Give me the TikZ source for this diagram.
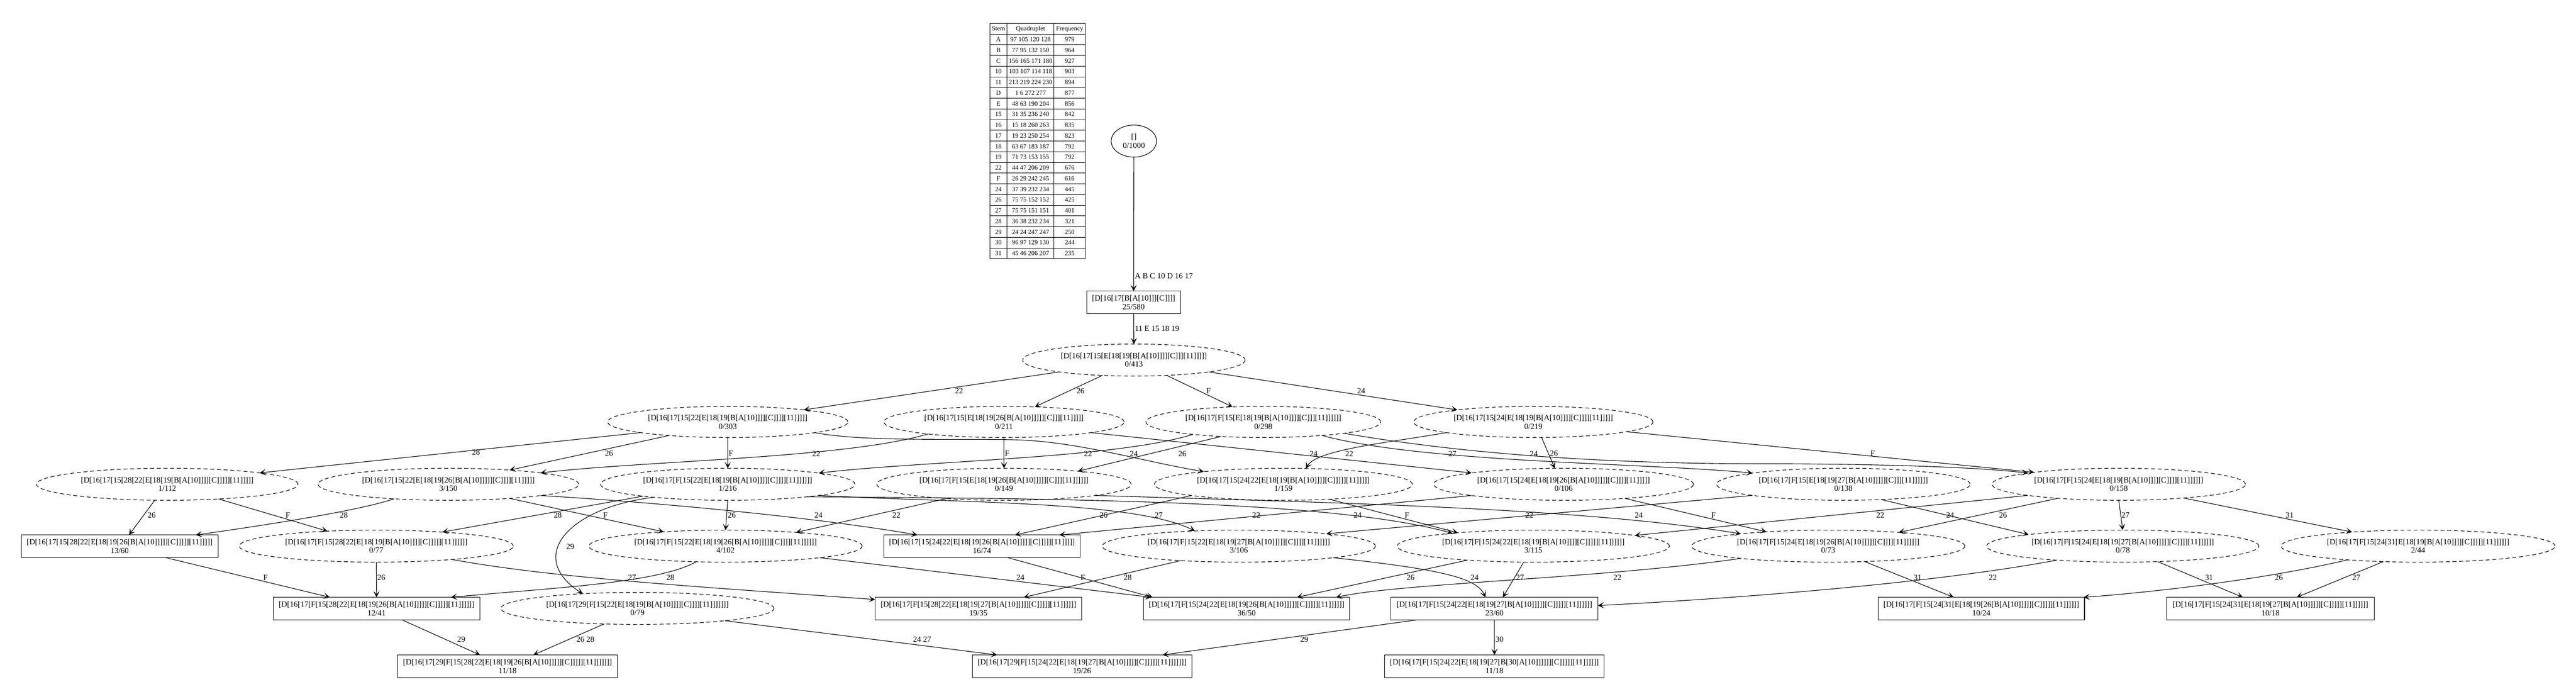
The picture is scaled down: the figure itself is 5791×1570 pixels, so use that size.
\documentclass[tikz,border=0pt]{standalone}
\usepackage{fontspec}
\setmainfont{Liberation Serif}
\usetikzlibrary{arrows.meta,shapes.geometric}
\begin{document}
\begin{tikzpicture}[x=1pt,y=-1pt,
  base/.style={font=\fontsize{17.9}{19}\selectfont, align=center, inner sep=0pt, outer sep=0pt, line width=1.3pt},
  ell/.style={base, draw, ellipse, minimum height=72pt},
  dell/.style={ell, dash pattern=on 9pt off 6pt},
  bx/.style={base, draw, rectangle, minimum height=51pt},
  edge/.style={draw, line width=1.3pt, -{Stealth[length=14pt,width=14pt,inset=7pt]}},
  lbl/.style={font=\fontsize{17.9}{19}\selectfont, inner sep=0pt, text height=12pt, text depth=0pt},
  cell/.style={font=\fontsize{14.5}{15}\selectfont, inner sep=0pt, text height=9.8pt, text depth=0pt},
  tline/.style={draw, line width=1pt}
]
\useasboundingbox (0,0) rectangle (5791,1570);
\fill[white] (0,0) rectangle (5791,1570);

% ---------- table ----------
\draw[tline, line width=1.4pt] (2225,52.5) rectangle (2440,581);
\draw[tline] (2264,52.5) -- (2264,581);
\draw[tline] (2369.3,52.5) -- (2369.3,581);
\foreach \k in {1,...,21} \draw[tline] (2225,{52.5+24.03*\k}) -- (2440,{52.5+24.03*\k});
\foreach \s/\q/\f [count=\i from 0] in {Stem/Quadruplet/Frequency, A/97 105 120 128/979, B/77 95 132 150/964, C/156 165 171 180/927, 10/103 107 114 118/903, 11/213 219 224 230/894, D/1 6 272 277/877, E/48 63 190 204/856, 15/31 35 236 240/842, 16/15 18 260 263/835, 17/19 23 250 254/823, 18/63 67 183 187/792, 19/71 73 153 155/792, 22/44 47 206 209/676, F/26 29 242 245/616, 24/37 39 232 234/445, 26/75 75 152 152/425, 27/75 75 151 151/401, 28/36 38 232 234/321, 29/24 24 247 247/250, 30/96 97 129 130/244, 31/45 46 206 207/235}
{
  \node[cell] (ts\i) at (2244.5,{52.5+24.03*(\i+0.5)}) {\s};
  \node[cell] (tq\i) at (2316.7,{52.5+24.03*(\i+0.5)}) {\q};
  \node[cell] (tf\i) at (2404.7,{52.5+24.03*(\i+0.5)}) {\f};
}

% ---------- nodes ----------
\node[ell, minimum width=102pt] (r0) at (2549,317) {[]\\0/1000};
\node[bx, minimum width=211pt] (b1) at (2548.5,679.5) {[D[16[17[B[A[10]]][C]]]]\\25/580};
\node[dell, minimum width=500pt] (n2) at (2549,809) {[D[16[17[15[E[18[19[B[A[10]]]][C]]][11]]]]]\\0/413};

\node[dell, minimum width=540pt, minimum height=70pt] (a303) at (1636,948) {[D[16[17[15[22[E[18[19[B[A[10]]]][C]]]][11]]]]]\\0/303};
\node[dell, minimum width=540pt, minimum height=70pt] (a211) at (2257,948) {[D[16[17[15[E[18[19[26[B[A[10]]]]][C]]][11]]]]]\\0/211};
\node[dell, minimum width=528pt, minimum height=70pt] (a298) at (2840,948) {[D[16[17[F[15[E[18[19[B[A[10]]]][C]]][11]]]]]]\\0/298};
\node[dell, minimum width=538pt, minimum height=70pt] (a219) at (3447,948) {[D[16[17[15[24[E[18[19[B[A[10]]]][C]]]][11]]]]]\\0/219};

\node[dell, minimum width=588pt] (b112) at (376,1088) {[D[16[17[15[28[22[E[18[19[B[A[10]]]][C]]]]][11]]]]]\\1/112};
\node[dell, minimum width=586pt] (b150) at (1008,1088) {[D[16[17[15[22[E[18[19[26[B[A[10]]]]][C]]]][11]]]]]\\3/150};
\node[dell, minimum width=572pt] (b216) at (1636,1088) {[D[16[17[F[15[22[E[18[19[B[A[10]]]][C]]]][11]]]]]]\\1/216};
\node[dell, minimum width=572pt] (b149) at (2257,1088) {[D[16[17[F[15[E[18[19[26[B[A[10]]]]][C]]][11]]]]]]\\0/149};
\node[dell, minimum width=580pt] (b159) at (2885,1088) {[D[16[17[15[24[22[E[18[19[B[A[10]]]][C]]]]][11]]]]]\\1/159};
\node[dell, minimum width=584pt] (b106) at (3515,1088) {[D[16[17[15[24[E[18[19[26[B[A[10]]]]][C]]]][11]]]]]\\0/106};
\node[dell, minimum width=570pt] (b138) at (4144,1088) {[D[16[17[F[15[E[18[19[27[B[A[10]]]]][C]]][11]]]]]]\\0/138};
\node[dell, minimum width=570pt] (b158) at (4763,1088) {[D[16[17[F[15[24[E[18[19[B[A[10]]]][C]]]][11]]]]]]\\0/158};

\node[bx, minimum width=442pt] (c60) at (269,1227.5) {[D[16[17[15[28[22[E[18[19[26[B[A[10]]]]][C]]]]][11]]]]]\\13/60};
\node[dell, minimum width=616pt] (c77) at (846,1227) {[D[16[17[F[15[28[22[E[18[19[B[A[10]]]][C]]]]][11]]]]]]\\0/77};
\node[dell, minimum width=614pt] (c102) at (1631,1227) {[D[16[17[F[15[22[E[18[19[26[B[A[10]]]]][C]]]][11]]]]]]\\4/102};
\node[bx, minimum width=441pt] (c74) at (2207.5,1227.5) {[D[16[17[15[24[22[E[18[19[26[B[A[10]]]]][C]]]]][11]]]]]\\16/74};
\node[dell, minimum width=614pt] (c106) at (2785,1227) {[D[16[17[F[15[22[E[18[19[27[B[A[10]]]]][C]]]][11]]]]]]\\3/106};
\node[dell, minimum width=612pt] (c115) at (3447,1227) {[D[16[17[F[15[24[22[E[18[19[B[A[10]]]][C]]]]][11]]]]]]\\3/115};
\node[dell, minimum width=614pt] (c73) at (4110,1227) {[D[16[17[F[15[24[E[18[19[26[B[A[10]]]]][C]]]][11]]]]]]\\0/73};
\node[dell, minimum width=612pt] (c78) at (4772,1227) {[D[16[17[F[15[24[E[18[19[27[B[A[10]]]]][C]]]][11]]]]]]\\0/78};
\node[dell, minimum width=616pt] (c44) at (5436,1227) {[D[16[17[F[15[24[31[E[18[19[B[A[10]]]][C]]]]][11]]]]]]\\2/44};

\node[bx, minimum width=465pt] (d41) at (846.5,1367.5) {[D[16[17[F[15[28[22[E[18[19[26[B[A[10]]]]][C]]]]][11]]]]]]\\12/41};
\node[dell, minimum width=614pt] (d79) at (1433,1367) {[D[16[17[29[F[15[22[E[18[19[B[A[10]]]][C]]]][11]]]]]]]\\0/79};
\node[bx, minimum width=465pt] (d35) at (2199.5,1367.5) {[D[16[17[F[15[28[22[E[18[19[27[B[A[10]]]]][C]]]]][11]]]]]]\\19/35};
\node[bx, minimum width=463pt] (d50) at (2802.5,1367.5) {[D[16[17[F[15[24[22[E[18[19[26[B[A[10]]]]][C]]]]][11]]]]]]\\36/50};
\node[bx, minimum width=465pt] (d60) at (3359.5,1367.5) {[D[16[17[F[15[24[22[E[18[19[27[B[A[10]]]]][C]]]]][11]]]]]]\\23/60};
\node[bx, minimum width=464pt] (d24) at (4454,1367.5) {[D[16[17[F[15[24[31[E[18[19[26[B[A[10]]]]][C]]]]][11]]]]]]\\10/24};
\node[bx, minimum width=466pt] (d18) at (5104,1367.5) {[D[16[17[F[15[24[31[E[18[19[27[B[A[10]]]]][C]]]]][11]]]]]]\\10/18};

\node[bx, minimum width=494pt] (f18a) at (1141,1497) {[D[16[17[29[F[15[28[22[E[18[19[26[B[A[10]]]]][C]]]]][11]]]]]]]\\11/18};
\node[bx, minimum width=493pt] (f26) at (2432.5,1497) {[D[16[17[29[F[15[24[22[E[18[19[27[B[A[10]]]]][C]]]]][11]]]]]]]\\19/26};
\node[bx, minimum width=493pt] (f18b) at (3359.5,1497) {[D[16[17[F[15[24[22[E[18[19[27[B[30[A[10]]]]]][C]]]]][11]]]]]]\\11/18};

% ---------- edges ----------
\draw[edge] (r0.south) -- (b1.north);
\node[lbl, anchor=west] (l1) at (2551,620) {A B C 10 D 16 17};
\draw[edge] (b1.south) -- (n2.north);
\node[lbl, anchor=west] (l2) at (2551,738) {11 E 15 18 19};

% row 2 -> 3
\draw[edge] (n2.189) -- (a303.9);   \node[lbl] (l3) at (2156,878) {22};
\draw[edge] (n2.206) -- (a211.26);  \node[lbl] (l4) at (2429,878) {26};
\draw[edge] (n2.335) -- (a298.154); \node[lbl] (l5) at (2717,878) {F};
\draw[edge] (n2.351) -- (a219.171); \node[lbl] (l6) at (3060,878) {24};

% row 3 -> 4
\draw[edge] (a303.187) -- (b112.7);  \node[lbl] (l7) at (1070,1016) {28};
\draw[edge] (a303.193) -- (b150.13); \node[lbl] (l8) at (1369,1018) {26};
\draw[edge] (a303.south) -- (b216.north); \node[lbl, anchor=west] (l9) at (1638,1018) {F};
\draw[edge] (a303.353) .. controls (1940,993) and (2150,985) .. (2277,988) .. controls (2420,991) and (2560,1035) .. (b159.171);
\node[lbl] (l10) at (2549,1020) {24};
\draw[edge] (a211.189) .. controls (1900,1030) and (1450,1035) .. (b150.7); \node[lbl] (l11) at (1835,1020) {22};
\draw[edge] (a211.south) -- (b149.north); \node[lbl, anchor=west] (l12) at (2259,1018) {F};
\draw[edge] (a211.353) -- (b106.173); \node[lbl] (l13) at (2953,1020) {24};
\draw[edge] (a298.190) .. controls (2510,1030) and (2080,1035) .. (b216.7); \node[lbl] (l14) at (2446,1020) {22};
\draw[edge] (a298.199) -- (b149.10); \node[lbl] (l15) at (2658,1020) {26};
\draw[edge] (a298.347) .. controls (3200,1040) and (3700,1040) .. (b138.173); \node[lbl] (l16) at (3265,1020) {27};
\draw[edge] (a298.352) .. controls (3350,1030) and (3700,1043) .. (4000,1042) .. controls (4250,1043) and (4450,1050) .. (b158.173);
\node[lbl] (l17) at (3448,1020) {24};
\draw[edge] (a219.187) .. controls (3120,995) and (2960,1010) .. (b159.35); \node[lbl] (l18) at (3033,1020) {22};
\draw[edge] (a219.298) -- (b106.119); \node[lbl, anchor=west] (l19) at (3484,1018) {26};
\draw[edge] (a219.354) -- (b158.172); \node[lbl] (l20) at (4210,1018) {F};

% row 4 -> 5
\draw[edge] (b112.232) -- ([xshift=21pt]c60.north); \node[lbl] (l21) at (341,1157) {26};
\draw[edge] (b112.344) -- (c77.163); \node[lbl] (l22) at (647,1157) {F};
\draw[edge] (b150.195) .. controls (800,1150) and (560,1185) .. ([xshift=171pt]c60.north); \node[lbl] (l23) at (773,1157) {28};
\draw[edge] (b150.347) -- (c102.167); \node[lbl] (l24) at (1361,1157) {F};
\draw[edge] (b150.353) .. controls (1500,1130) and (1850,1165) .. ([xshift=-145pt]c74.north); \node[lbl] (l25) at (1840,1157) {24};
\draw[edge] (b216.188) -- (c77.12); \node[lbl] (l26) at (1254,1157) {28};
\draw[edge] (b216.south) -- (c102.north); \node[lbl, anchor=west] (l27) at (1636,1157) {26};
\draw[edge] (b216.190) .. controls (1280,1140) and (1180,1250) .. (d79.165); \node[lbl] (l28) at (1282,1228) {29};
\draw[edge] (b216.353) .. controls (2150,1130) and (2550,1125) .. (c106.161); \node[lbl] (l29) at (2605,1157) {27};
\draw[edge] (b216.351) .. controls (2400,1120) and (3000,1125) .. (c115.171); \node[lbl] (l30) at (3052,1157) {24};
\draw[edge] (b149.194) -- (c102.11); \node[lbl] (l32) at (2015,1157) {22};
\draw[edge] (b149.353) .. controls (3000,1130) and (3550,1140) .. (c73.172); \node[lbl] (l33) at (3684,1157) {24};
\draw[edge] (b159.187) -- ([xshift=74pt]c74.north); \node[lbl] (l34) at (2481,1157) {26};
\draw[edge] (b159.342) -- (c115.170); \node[lbl] (l35) at (3163,1157) {F};
\draw[edge] (b106.187) -- ([xshift=174pt]c74.north); \node[lbl] (l36) at (2824,1157) {22};
\draw[edge] (b106.347) -- (c73.167); \node[lbl] (l37) at (3852,1157) {F};
\draw[edge] (b138.187) -- (c106.8); \node[lbl] (l38) at (3438,1157) {22};
\draw[edge] (b138.338) -- (c78.173); \node[lbl] (l39) at (4384,1157) {24};
\draw[edge] (b158.187) -- (c115.6); \node[lbl] (l40) at (4227,1157) {22};
\draw[edge] (b158.193) -- (c73.11); \node[lbl] (l41) at (4503,1157) {26};
\draw[edge] (b158.south) -- (c78.north); \node[lbl, anchor=west] (l42) at (4769,1157) {27};
\draw[edge] (b158.348) -- (c44.168); \node[lbl] (l43) at (5147,1157) {31};

% row 5 -> 6
\draw[edge] ([xshift=104pt]c60.south) -- ([xshift=-105pt]d41.north); \node[lbl] (l44) at (597,1297) {F};
\draw[edge] (c77.south) -- (d41.north); \node[lbl, anchor=west] (l45) at (848,1297) {26};
\draw[edge] (c77.350) .. controls (1250,1300) and (1600,1320) .. ([yshift=-5pt]d35.north west); \node[lbl] (l46) at (1421,1297) {27};
\draw[edge] (c102.208) .. controls (1480,1310) and (1250,1320) .. ([xshift=167pt]d41.north); \node[lbl] (l47) at (1507,1297) {28};
\draw[edge] (c102.353) -- ([xshift=-214pt]d50.north); \node[lbl] (l48) at (2294,1297) {24};
\draw[edge] ([xshift=58pt]c74.south) -- ([xshift=-211pt]d50.north); \node[lbl] (l49) at (2434,1297) {F};
\draw[edge] (c106.194) -- ([xshift=102pt]d35.north); \node[lbl] (l51) at (2535,1297) {28};
\draw[edge] (c106.353) .. controls (3250,1280) and (3320,1300) .. ([xshift=-20pt]d60.north); \node[lbl] (l52) at (3315,1297) {24};
\draw[edge] (c115.192) -- ([xshift=113pt]d50.north); \node[lbl] (l53) at (3171,1297) {26};
\draw[edge] (c115.239) -- ([xshift=19pt]d60.north); \node[lbl] (l54) at (3417,1297) {27};
\draw[edge] (c73.188) .. controls (3600,1300) and (3150,1310) .. ([xshift=201pt]d50.north); \node[lbl] (l55) at (3636,1297) {22};
\draw[edge] (c73.337) -- ([xshift=-62pt]d24.north); \node[lbl] (l56) at (4311,1297) {31};
\draw[edge] (c78.192) .. controls (4350,1310) and (3900,1345) .. ([yshift=7pt]d60.east); \node[lbl] (l57) at (4480,1297) {22};
\draw[edge] (c78.336) -- ([xshift=-62pt]d18.north); \node[lbl] (l58) at (4966,1297) {31};
\draw[edge] (c44.191) .. controls (5100,1300) and (4850,1330) .. ([xshift=-2pt]d24.north east); \node[lbl] (l59) at (5123,1297) {26};
\draw[edge] (c44.204) -- ([xshift=59pt]d18.north); \node[lbl] (l60) at (5297,1297) {27};

% row 6 -> 7
\draw[edge] ([xshift=58pt]d41.south) -- ([xshift=-62pt]f18a.north); \node[lbl] (l61) at (1037,1437) {29};
\draw[edge] (d79.205) -- ([xshift=58pt]f18a.north); \node[lbl] (l62) at (1316,1437) {26 28};
\draw[edge] (d79.352) -- ([xshift=-191pt]f26.north); \node[lbl] (l63) at (2073,1437) {24 27};
\draw[edge] ([xshift=-176pt]d60.south) -- ([xshift=181pt]f26.north); \node[lbl] (l64) at (2932,1437) {29};
\draw[edge] (d60.south) -- (f18b.north); \node[lbl, anchor=west] (l65) at (3362,1437) {30};
\end{tikzpicture}
\end{document}
